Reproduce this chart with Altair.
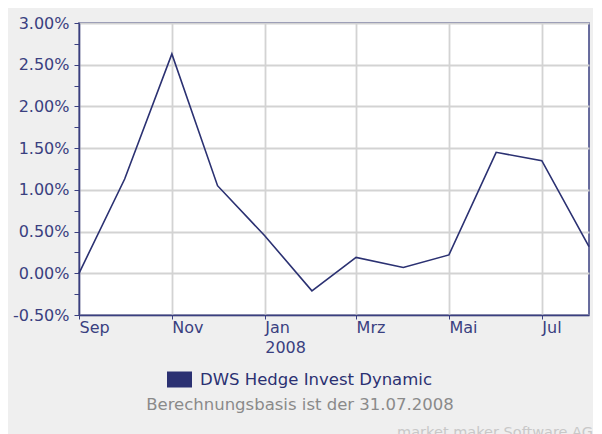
import altair as alt
import pandas as pd

# ---- data ----
dates = ["2007-09-01T00:00:00", "2007-10-01T00:00:00", "2007-11-01T00:00:00",
         "2007-12-01T00:00:00", "2008-01-01T00:00:00", "2008-02-01T00:00:00",
         "2008-03-01T00:00:00", "2008-04-01T00:00:00", "2008-05-01T00:00:00",
         "2008-06-01T00:00:00", "2008-07-01T00:00:00", "2008-08-01T00:00:00"]
values_pct = [0.00, 1.13, 2.63, 1.05, 0.45, -0.21, 0.19, 0.07, 0.22, 1.45, 1.35, 0.32]
series_name = "DWS Hedge Invest Dynamic"
month_names = ["Jan", "Feb", "Mrz", "Apr", "Mai", "Jun", "Jul", "Aug", "Sep", "Okt", "Nov", "Dez"]
x_tick_months = [(2007, 9), (2007, 11), (2008, 1), (2008, 3), (2008, 5), (2008, 7)]
y_tick_values = [-0.005, -0.0025, 0.0, 0.0025, 0.005, 0.0075, 0.01, 0.0125, 0.015,
                 0.0175, 0.02, 0.0225, 0.025, 0.0275, 0.03]
footnote = "Berechnungsbasis ist der 31.07.2008"
watermark = "market maker Software AG"

NAVY = "#2b3172"
AXIS = "#3a3f80"
GRID = "#d3d3d3"
FONT = "DejaVu Sans"

df = pd.DataFrame({
    "date": dates,
    "value": [v / 100 for v in values_pct],
    "series": [series_name] * len(dates),
})

months_js = "[" + ",".join("'%s'" % m for m in month_names) + "]"
x_label_expr = (
    "month(datum.value)==0 ? [%s[0], timeFormat(datum.value,'%%Y')] : %s[month(datum.value)]"
    % (months_js, months_js)
)
y_label_expr = (
    "round(datum.value*400)%2==0 ? replace(format(datum.value,'.2%'),'\u2212','-') : ''"
)

x_axis = alt.Axis(
    values=[alt.DateTime(year=y, month=m, date=1) for (y, m) in x_tick_months],
    labelExpr=x_label_expr, labelAlign="left", labelBaseline="top",
    labelFlush=False, labelOverlap=False, labelLineHeight=20,
    tickSize=4, labelPadding=0, labelFontSize=16, labelFont=FONT,
    labelColor=AXIS, tickColor=AXIS, domainColor=AXIS, domainWidth=1.5,
    gridColor=GRID, gridWidth=1.8, title=None,
)
y_axis = alt.Axis(
    values=y_tick_values, labelExpr=y_label_expr, labelOverlap=False,
    gridOpacity={"condition": {"test": "round(datum.value*400)%2!=0", "value": 0}, "value": 1},
    tickSize=5, labelPadding=5, labelFontSize=16, labelFont=FONT,
    labelColor=AXIS, tickColor=AXIS, domainColor=AXIS, domainWidth=1.5,
    gridColor=GRID, gridWidth=1.8, title=None,
)

line = alt.Chart(df).mark_line(strokeWidth=1.6).encode(
    x=alt.X("date:T", axis=x_axis,
            scale=alt.Scale(domain=[alt.DateTime(year=2007, month=9, date=1),
                                    alt.DateTime(year=2008, month=8, date=1)], nice=False)),
    y=alt.Y("value:Q", axis=y_axis, scale=alt.Scale(domain=[-0.005, 0.03], nice=False, zero=False)),
    color=alt.Color("series:N", scale=alt.Scale(range=[NAVY]),
                    legend=alt.Legend(orient="none", legendX=80, legendY=336, title=None,
                                      symbolType="stroke", symbolSize=625, symbolStrokeWidth=16,
                                      labelFontSize=16.5, labelFont=FONT, labelColor=NAVY,
                                      labelOffset=0, labelLimit=0, padding=0)),
)

foot = alt.Chart(pd.DataFrame({"t": [footnote]})).mark_text(
    align="center", baseline="alphabetic", fontSize=16.5, font=FONT, color="#8a8a8a"
).encode(text="t:N", x=alt.value(221), y=alt.value(387))

wm = alt.Chart(pd.DataFrame({"t": [watermark]})).mark_text(
    align="right", baseline="alphabetic", fontSize=14.5, font=FONT, color="#c8c8c8"
).encode(text="t:N", x=alt.value(514), y=alt.value(414))

chart = alt.layer(line, foot, wm).properties(
    width=510, height=292,
    padding={"left": 71, "top": 15, "right": 4, "bottom": 119},
    autosize=alt.AutoSizeParams(type="none"),
    background="#efefef",
).configure_view(fill="white", stroke=AXIS, strokeWidth=1.5)

chart.save("out.html", embed_options={"renderer": "svg", "actions": False})
